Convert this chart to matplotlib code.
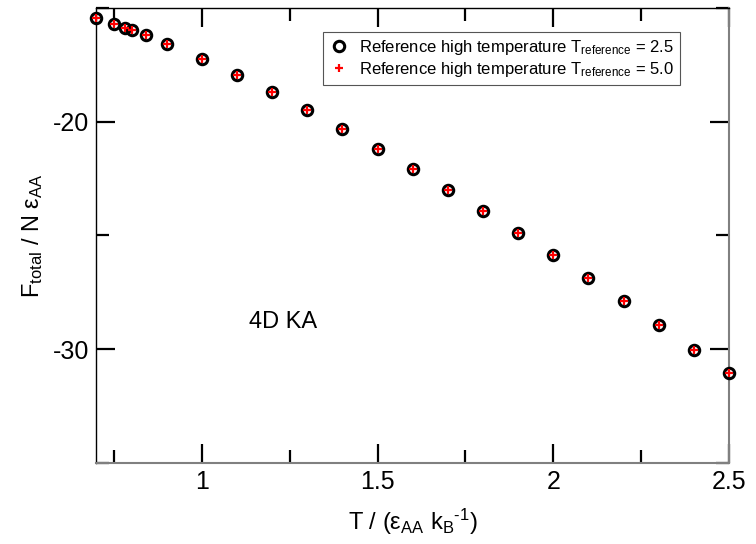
import numpy as np
import matplotlib
matplotlib.use("Agg")
import matplotlib.pyplot as plt
from matplotlib.ticker import MultipleLocator

plt.rcParams['font.family'] = ['Liberation Sans', 'DejaVu Sans']
plt.rcParams['mathtext.fontset'] = 'custom'
plt.rcParams['mathtext.rm'] = 'Liberation Sans'
plt.rcParams['mathtext.it'] = 'Liberation Sans'
plt.rcParams['axes.unicode_minus'] = False

# data
temps = [0.7, 0.75, 0.78, 0.8, 0.84, 0.9, 1.0, 1.1, 1.2, 1.3, 1.4, 1.5, 1.6,
         1.7, 1.8, 1.9, 2.0, 2.1, 2.2, 2.3, 2.4, 2.5]
f_ref25 = [-15.46, -15.71, -15.87, -15.97, -16.20, -16.59, -17.25, -17.95,
           -18.70, -19.50, -20.33, -21.20, -22.09, -23.01, -23.93, -24.89,
           -25.87, -26.88, -27.88, -28.93, -30.02, -31.04]
f_ref50 = list(f_ref25)

labels = ['Reference high temperature T$_{\\mathrm{reference}}$ = 2.5',
          'Reference high temperature T$_{\\mathrm{reference}}$ = 5.0']

fig = plt.figure(figsize=(7.56, 5.44), dpi=100)
ax = fig.add_axes([0.1276, 0.1489, 0.8367, 0.8366])

ax.plot(temps, f_ref25, 'o', mfc='none', mec='black', ms=7.5, mew=2.2,
        label=labels[0], clip_on=False, zorder=3)
ax.plot(temps, f_ref50, '+', color='red', ms=6, mew=1.6,
        label=labels[1], clip_on=False, zorder=4)

ax.set_xlim(0.7, 2.5)
ax.set_ylim(-35, -15)
ax.xaxis.set_major_locator(MultipleLocator(0.5))
ax.xaxis.set_minor_locator(MultipleLocator(0.25))
ax.yaxis.set_major_locator(MultipleLocator(10))
ax.yaxis.set_minor_locator(MultipleLocator(5))
ax.set_xticks([1, 1.5, 2, 2.5])
ax.set_xticklabels(['1', '1.5', '2', '2.5'])

ax.tick_params(which='both', direction='in', top=True, right=True,
               width=1.6, color='black', labelsize=18)
ax.tick_params(which='major', length=14, pad=5)
ax.tick_params(which='minor', length=9.5)

for side in ['left', 'top']:
    ax.spines[side].set_color('black')
    ax.spines[side].set_linewidth(1.0)
for side in ['right', 'bottom']:
    ax.spines[side].set_color('#808080')
    ax.spines[side].set_linewidth(1.5)

ax.set_xlabel('T / ($\\mathrm{\\epsilon_{AA}\\ k_B}^{\\mathrm{\u2010 1}}$)', fontsize=17, labelpad=9)
ax.set_ylabel('F$_{\\mathrm{total}}$ / N $\\mathrm{\\epsilon_{AA}}$', fontsize=17, labelpad=6)

ax.text(1.135, -29.07, '4D KA', fontsize=17)

leg = ax.legend(loc='upper right', bbox_to_anchor=(0.935, 0.965), fontsize=12,
                fancybox=False, framealpha=1, edgecolor='#555555',
                handlelength=1.2, handletextpad=0.6, borderpad=0.35,
                labelspacing=0.2)
leg.get_frame().set_linewidth(0.8)

fig.savefig('out.png', dpi=100)
